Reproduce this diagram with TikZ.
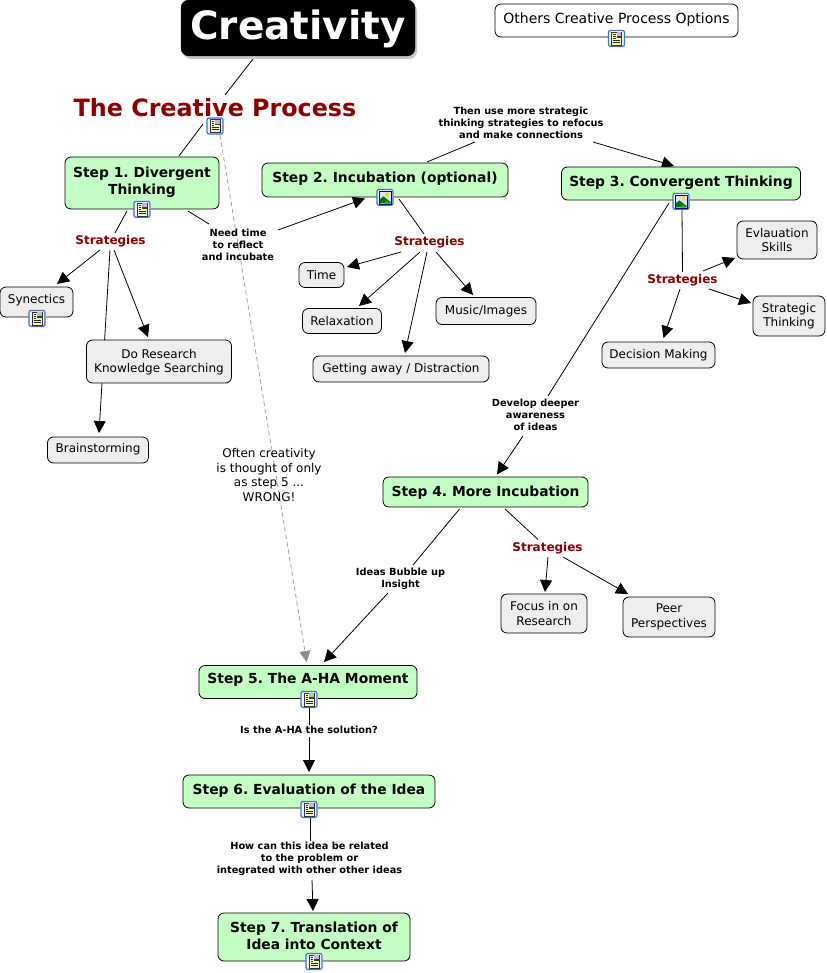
\documentclass[tikz,border=0pt]{standalone}
\usepackage{fontspec}
\setmainfont{DejaVu Sans}
\AtBeginDocument{\frenchspacing}
\usetikzlibrary{arrows.meta,backgrounds}
\definecolor{stepgreen}{RGB}{196,255,196}
\definecolor{plain}{RGB}{238,238,238}
\definecolor{redtext}{RGB}{139,0,0}
\definecolor{dashgrey}{RGB}{165,165,165}
\definecolor{iconblue}{RGB}{58,118,196}
\newcommand\lift[2]{\raisebox{#1pt}[0pt][0pt]{\begin{tabular}{@{}c@{}}#2\end{tabular}}}
\tikzset{
  x=1pt,y=-1pt,
  box/.style={draw=black,line width=0.8pt,rounded corners=6pt,inner sep=0pt},
  stepbox/.style={box,fill=stepgreen,font=\fontsize{13.85}{16.7}\selectfont\bfseries},
  plainbox/.style={box,fill=plain,font=\fontsize{12}{14.7}\selectfont},
  whitebox/.style={box,fill=white,font=\fontsize{14}{16}\selectfont},
  strat/.style={inner sep=0pt,text height=9pt,text depth=0.8pt,text=redtext,font=\fontsize{12}{14}\selectfont\bfseries},
  linklabel/.style={inner sep=0pt,align=center,font=\fontsize{9.8}{12}\selectfont\bfseries},
  note/.style={inner sep=0pt,align=center,font=\fontsize{12}{14.5}\selectfont},
  link/.style={draw=black,line width=0.8pt},
  arrowlink/.style={link,-{Triangle[length=12pt,width=12pt]}},
  dashlink/.style={draw=dashgrey,line width=0.8pt,dash pattern=on 4.5pt off 3pt,
    -{Triangle[length=11pt,width=11pt,color=gray!90]}},
  iconframe/.pic={
    \fill[white] (-8.5,-8.5) rectangle (8.5,8.5);
    \draw[iconblue,line width=1.2pt,fill=blue!6,rounded corners=2pt] (-8,-8) rectangle (8,8);
  },
  docicon/.pic={
    \pic {iconframe};
    \draw[black!80,line width=0.6pt,fill=yellow!25] (-5,-6.5) rectangle (5,6.5);
    \fill[blue!30!white] (0,-6) rectangle (4.5,-0.5);
    \fill[red!35!white] (2,-5) rectangle (4,-3);
    \fill[green!40!black] (0,-2.2) rectangle (4.5,-0.5);
    \draw[black!85,line width=0.7pt]
      (-3.5,-4.5) -- (-1,-4.5) (-3.5,-2.5) -- (-1,-2.5) (-3.5,-0.5) -- (-1,-0.5)
      (-3.5,1.5) -- (3.5,1.5) (-3.5,3.5) -- (3.5,3.5);
  },
  imgicon/.pic={
    \pic {iconframe};
    \draw[blue!50!black,line width=0.7pt,fill=blue!12] (-6,-6.5) rectangle (6,6.5);
    \fill[yellow!80!orange] (2.5,-3) circle (2);
    \fill[green!45!black] (-5.5,6) -- (-5.5,2) -- (-1.5,-1) -- (5.5,4.5) -- (5.5,6) -- cycle;
    \fill[green!70!black] (-1,6) -- (2,3) -- (5.5,6) -- cycle;
  }
}
\begin{document}
\begin{tikzpicture}
\useasboundingbox (0,0) rectangle (826,973);
% shadow of the title
\fill[black!22,rounded corners=8pt] (183,3) rectangle (417,59);
% concepts
\node[draw=black,fill=black,rounded corners=8pt,inner sep=0pt,minimum width=234pt,minimum height=56pt,text=white,font=\fontsize{39}{44}\selectfont\bfseries] (cre) at (298,28) {\lift{-8.5}{Creativity}};
\node[whitebox,minimum width=243pt,minimum height=33pt] (oth) at (616.5,20.5) {\lift{-3.2}{Others Creative Process Options}};
\node[inner sep=0pt,text height=20pt,text depth=0pt,text=redtext,font=\fontsize{23.8}{28}\selectfont\bfseries] (tcp) at (215,107) {The Creative Process};
\node[stepbox,minimum width=154pt,minimum height=52pt] (s1) at (142,183) {\lift{-3}{Step 1. Divergent\\Thinking}};
\node[stepbox,minimum width=246pt,minimum height=34pt] (s2) at (385,180) {\lift{-2.5}{Step 2. Incubation (optional)}};
\node[stepbox,minimum width=239pt,minimum height=33pt] (s3) at (681,183.5) {\lift{-3}{Step 3. Convergent Thinking}};
\node[stepbox,minimum width=205pt,minimum height=30pt] (s4) at (485.5,492) {\lift{-4.5}{Step 4. More Incubation}};
\node[stepbox,minimum width=218pt,minimum height=33pt] (s5) at (308,682) {\lift{-2}{Step 5. The A-HA Moment}};
\node[stepbox,minimum width=252pt,minimum height=33pt] (s6) at (309,791.5) {\lift{-3}{Step 6. Evaluation of the Idea}};
\node[stepbox,minimum width=192pt,minimum height=48pt] (s7) at (314,937) {\lift{-4}{Step 7. Translation of\\Idea into Context}};
\node[plainbox,minimum width=73pt,minimum height=30pt] (syn) at (36.5,302) {\lift{-1.2}{Synectics}};
\node[plainbox,minimum width=145pt,minimum height=43pt] (res) at (159,361.5) {\lift{-4}{Do Research\\Knowledge Searching}};
\node[plainbox,minimum width=101pt,minimum height=26pt] (bra) at (98,450) {\lift{-2.5}{Brainstorming}};
\node[plainbox,minimum width=45pt,minimum height=25pt] (tim) at (321.5,275) {\lift{-4.5}{Time}};
\node[plainbox,minimum width=79pt,minimum height=25pt] (rel) at (342,321) {\lift{-4.3}{Relaxation}};
\node[plainbox,minimum width=100pt,minimum height=27pt] (mus) at (486,311) {\lift{-3.5}{Music/Images}};
\node[plainbox,minimum width=176pt,minimum height=26pt] (get) at (401,369) {\lift{-3.2}{Getting away / Distraction}};
\node[plainbox,minimum width=80pt,minimum height=38pt] (eva) at (777,240) {\lift{-4.5}{Evlauation\\Skills}};
\node[plainbox,minimum width=72pt,minimum height=40pt] (stg) at (789,316) {\lift{-3.5}{Strategic\\Thinking}};
\node[plainbox,minimum width=113pt,minimum height=26pt] (dec) at (658.5,355) {\lift{-3.6}{Decision Making}};
\node[plainbox,minimum width=86pt,minimum height=39pt] (foc) at (544,613.5) {\lift{-4.3}{Focus in on\\Research}};
\node[plainbox,minimum width=92pt,minimum height=40pt] (pee) at (669,617) {\lift{-3.2}{Peer\\Perspectives}};
% strategies
\node[strat] (str1) at (110.5,240) {Strategies};
\node[strat] (str2) at (429.5,241) {Strategies};
\node[strat] (str3) at (682.5,279) {Strategies};
\node[strat] (str4) at (547.5,547) {Strategies};
% linking phrases
\node[linklabel] (need) at (238,244.5) {Need time\\to reflect\\and incubate};
\node[linklabel] (then) at (521,122.8) {Then use more strategic\\thinking strategies to refocus\\and make connections};
\node[linklabel] (dev) at (535.5,415) {Develop deeper\\awareness\\of ideas};
\node[linklabel] (ide) at (400.5,578.5) {Ideas Bubble up\\Insight};
\node[linklabel] (aha) at (309,730) {Is the A-HA the solution?};
\node[linklabel] (how) at (309.5,859) {How can this idea be related\\to the problem or\\integrated with other other ideas};
\node[note] (oft) at (269,475) {Often creativity\\is thought of only\\as step 5 ...\\WRONG!};
% resource icons
\pic at ([shift={(0,1)}]oth.south) {docicon};
\pic at ([shift={(0,19)}]tcp.center) {docicon};
\pic at (s1.south) {docicon};
\pic at (s2.south) {imgicon};
\pic at ([shift={(0,1)}]s3.south) {imgicon};
\pic at ([shift={(1,0.5)}]s5.south) {docicon};
\pic at ([shift={(0,1)}]s6.south) {docicon};
\pic at (s7.south) {docicon};
\pic at ([shift={(0.5,1)}]syn.south) {docicon};
% connectors
\begin{scope}[on background layer]
\draw[link] ([shift={(-45,31)}]cre.center) -- ([shift={(10,-12)}]tcp.center);
\draw[link] ([shift={(-12,17)}]tcp.center) -- ([shift={(37,-27)}]s1.center);
\draw[dashlink] ([shift={(5,28)}]tcp.center) -- ([shift={(-1.3,-20)}]s5.center);
\draw[link] ([shift={(-15,28)}]s1.center) -- ([shift={(4.5,-7)}]str1.center);
\draw[arrowlink] ([shift={(-10.5,10)}]str1.center) -- ([shift={(20.5,-18)}]syn.center);
\draw[arrowlink] ([shift={(-0.5,10)}]str1.center) -- ([shift={(1,-17)}]bra.center);
\draw[arrowlink] ([shift={(3.5,10)}]str1.center) -- ([shift={(-11,-24.5)}]res.center);
\draw[link] ([shift={(46,28)}]s1.center) -- ([shift={(-29,-20.5)}]need.center);
\draw[arrowlink] ([shift={(40,-14.5)}]need.center) -- ([shift={(-20,18.5)}]s2.center);
\draw[link] ([shift={(42,-18)}]s2.center) -- ([shift={(-46,19.2)}]then.center);
\draw[arrowlink] ([shift={(72,19.2)}]then.center) -- ([shift={(-7,-17.5)}]s3.center);
\draw[link] ([shift={(14,19)}]s2.center) -- ([shift={(-5.5,-7)}]str2.center);
\draw[arrowlink] ([shift={(-28.5,11)}]str2.center) -- ([shift={(25.5,-8)}]tim.center);
\draw[arrowlink] ([shift={(-9.5,11)}]str2.center) -- ([shift={(17,-15)}]rel.center);
\draw[arrowlink] ([shift={(-2.5,11)}]str2.center) -- ([shift={(4,-16)}]get.center);
\draw[arrowlink] ([shift={(6.5,11)}]str2.center) -- ([shift={(-13,-16)}]mus.center);
\draw[link] ([shift={(1,26.5)}]s3.center) -- ([shift={(0,-7)}]str3.center);
\draw[arrowlink] ([shift={(20.5,-8)}]str3.center) -- ([shift={(-42,18)}]eva.center);
\draw[arrowlink] ([shift={(26.5,10)}]str3.center) -- ([shift={(-38,-13)}]stg.center);
\draw[arrowlink] ([shift={(-2.5,10)}]str3.center) -- ([shift={(5,-17)}]dec.center);
\draw[link] ([shift={(-12,19.5)}]s3.center) -- ([shift={(12.5,-19)}]dev.center);
\draw[arrowlink] ([shift={(-12.5,21)}]dev.center) -- ([shift={(11.5,-17.5)}]s4.center);
\draw[link] ([shift={(-26,17)}]s4.center) -- ([shift={(12.5,-13.5)}]ide.center);
\draw[arrowlink] ([shift={(-12.5,14.5)}]ide.center) -- ([shift={(16,-20)}]s5.center);
\draw[link] ([shift={(19.5,17)}]s4.center) -- ([shift={(-9.5,-7.5)}]str4.center);
\draw[arrowlink] ([shift={(0.5,10)}]str4.center) -- ([shift={(1,-21.5)}]foc.center);
\draw[arrowlink] ([shift={(15.5,10)}]str4.center) -- ([shift={(-41,-23)}]pee.center);
\draw[link] ([shift={(1,26)}]s5.center) -- ([shift={(0,-5)}]aha.center);
\draw[arrowlink] ([shift={(0,7)}]aha.center) -- ([shift={(0,-19.5)}]s6.center);
\draw[link] ([shift={(1,26.5)}]s6.center) -- ([shift={(0.5,-18)}]how.center);
\draw[arrowlink] ([shift={(2.5,21)}]how.center) -- ([shift={(-1,-26)}]s7.center);
\end{scope}
\end{tikzpicture}
\end{document}
